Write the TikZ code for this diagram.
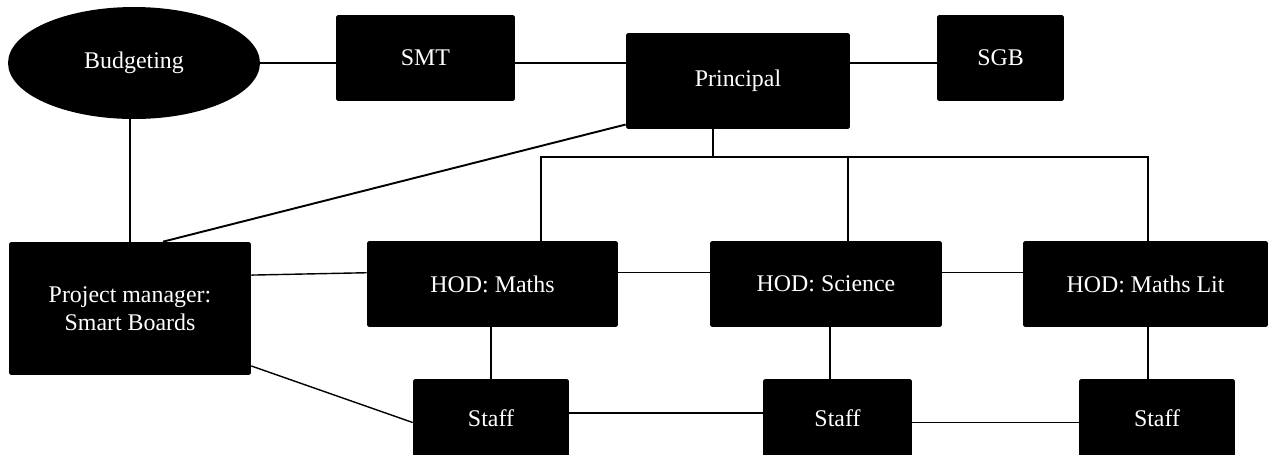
\documentclass[tikz,border=0pt]{standalone}
\usepackage{fontspec}
\setmainfont{Liberation Serif}
\usetikzlibrary{calc,positioning,shapes.geometric}
\tikzset{
orgbox/.style={
  rectangle,
  rounded corners=1pt,
  fill=black,
  text=white,
  inner sep=0pt,
  align=center,
  font=\fontsize{13.6}{16}\selectfont,
  }
}
\tikzset{
orgline/.style={
  line width=0.8pt,
  }
}

\begin{document}
\begin{tikzpicture}[x=0.02cm,y=-0.02cm]
    \useasboundingbox (0,0) rectangle (1269,454);

    % top row
    \node[orgbox, ellipse, minimum width=5.04cm, minimum height=2.24cm] (budget) at (134,63) {Budgeting};
    \node[orgbox, minimum width=3.58cm, minimum height=1.72cm] (smt) at (425.5,58) {SMT};
    \node[orgbox, minimum width=4.48cm, minimum height=1.92cm] (principal) at (738,81) {Principal};
    \node[orgbox, minimum width=2.54cm, minimum height=1.72cm] (sgb) at (1000.5,58) {SGB};

    % project manager
    \node[orgbox, minimum width=4.84cm, minimum height=2.66cm] (pm) at (130,308.5) {Project manager:\\Smart Boards};

    % HOD row
    \node[orgbox, minimum width=5.02cm, minimum height=1.72cm] (hodm) at (492.5,284) {HOD: Maths};
    \node[orgbox, minimum width=4.64cm, minimum height=1.72cm] (hods) at (826,284) {HOD: Science};
    \node[orgbox, minimum width=4.90cm, minimum height=1.72cm] (hodl) at (1145.5,284) {HOD: Maths Lit};

    % staff row
    \node[orgbox, minimum width=3.12cm, minimum height=1.58cm] (staffm) at (491,418.5) {Staff};
    \node[orgbox, minimum width=2.98cm, minimum height=1.58cm] (staffs) at (837.5,418.5) {Staff};
    \node[orgbox, minimum width=3.12cm, minimum height=1.58cm] (staffl) at (1157,418.5) {Staff};

    % bus below principal
    \coordinate (bus) at (713,157);
    \coordinate (busm) at (541,157);
    \coordinate (buss) at (848,157);
    \coordinate (busl) at (1148,157);

    % top row edges
    \draw[orgline] (budget.east) -- (budget.east -| smt.west);
    \draw[orgline] (smt.east |- budget.east) -- (principal.west |- budget.east);
    \draw[orgline] (principal.east |- budget.east) -- (sgb.west |- budget.east);

    % project manager edges
    \draw[orgline] (budget.south -| pm.north) -- (pm.north);
    \draw[orgline, line width=1.1pt] ($(principal.north west)!0.95!(principal.south west)$) -- ($(pm.north)+(33,0)$);
    \draw[orgline] ($(pm.north east)!0.25!(pm.south east)$) -- ($(hodm.north west)!0.37!(hodm.south west)$);
    \draw[orgline] ($(pm.north east)!0.93!(pm.south east)$) -- ($(staffm.north west)!0.55!(staffm.south west)$);

    % principal to HODs
    \draw[orgline] (principal.south -| bus) -- (bus);
    \draw[orgline] (busm |- hodm.north) -- (busm) -- (busl) -- (busl |- hodl.north);
    \draw[orgline] (buss) -- (buss |- hods.north);

    % HOD edges
    \draw[orgline] ($(hodm.north east)!0.37!(hodm.south east)$) -- ($(hods.north west)!0.37!(hods.south west)$);
    \draw[orgline] ($(hods.north east)!0.37!(hods.south east)$) -- ($(hodl.north west)!0.37!(hodl.south west)$);

    % staff edges
    \draw[orgline] (hodm.south -| staffm.north) -- (staffm.north);
    \draw[orgline] ($(hods.south)+(4,0)$) -- ($(hods.south |- staffs.north)+(4,0)$);
    \draw[orgline] (hodl.south -| busl) -- (busl |- staffl.north);
    \draw[orgline] ($(staffm.north east)!0.43!(staffm.south east)$) -- ($(staffs.north west)!0.43!(staffs.south west)$);
    \draw[orgline] ($(staffs.north east)!0.55!(staffs.south east)$) -- ($(staffl.north west)!0.55!(staffl.south west)$);
\end{tikzpicture}
\end{document}
